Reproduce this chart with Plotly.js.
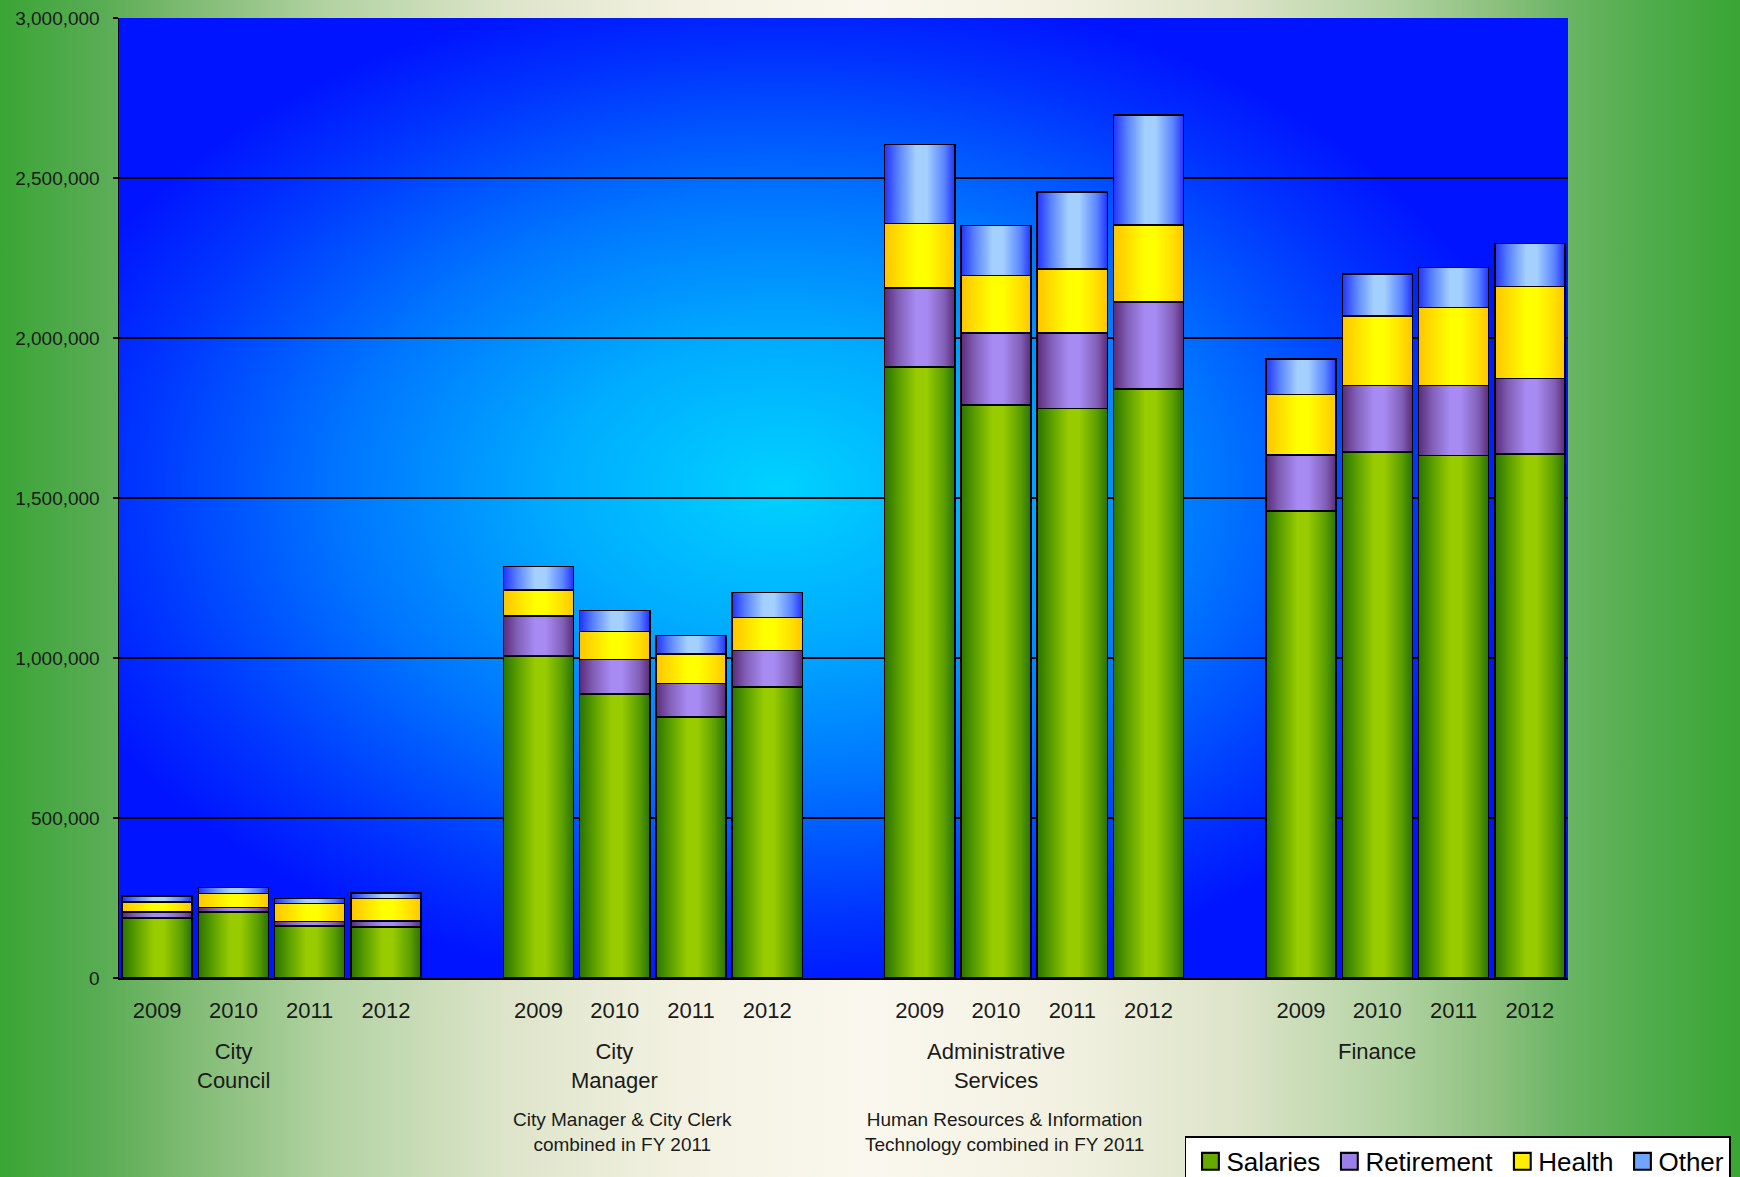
<!DOCTYPE html>
<html>
<head>
<meta charset="utf-8">
<script src="https://cdn.plot.ly/plotly-3.0.1.min.js"></script>
<style>
  html, body { margin: 0; padding: 0; }
  #chart {
    width: 1740px;
    height: 1177px;
    background: linear-gradient(to right,
      #3aa535 0%, #5aad55 6%, #7ab86e 10%, #b3d3a3 19%, #dde4c9 29%,
      #f2f1e1 39%, #faf8ee 50%, #f2f1e1 61%, #dde4c9 71%, #b3d3a3 80%,
      #8cc07e 86%, #6ab564 90%, #4fac4a 95%, #3aa535 100%);
  }
</style>
</head>
<body>
<div id="chart"></div>
<script>
// Personnel costs by department and fiscal year
const departments = ['City Council', 'City Manager', 'Administrative Services', 'Finance'];
const departmentLabels = ['City<br>Council', 'City<br>Manager', 'Administrative<br>Services', 'Finance'];
const departmentNotes = [
  '',
  'City Manager & City Clerk<br>combined in FY 2011',
  'Human Resources & Information<br>Technology combined in FY 2011',
  ''
];
const years = ['2009', '2010', '2011', '2012'];

// Values listed department by department, 2009-2012 within each
const salaries   = [188000, 207000, 162000, 160000, 1006000, 887000, 816000, 909000, 1910000, 1791000, 1779000, 1840000, 1459000, 1644000, 1633000, 1638000];
const retirement = [18000, 14000, 15000, 18000, 126000, 109000, 104000, 114000, 247000, 224000, 236000, 273000, 175000, 208000, 219000, 235000];
const health     = [32000, 43000, 56000, 70000, 81000, 87000, 93000, 103000, 201000, 180000, 200000, 240000, 190000, 216000, 244000, 288000];
const other      = [18000, 19000, 16000, 18000, 73000, 66000, 58000, 78000, 246000, 157000, 242000, 344000, 110000, 132000, 125000, 135000];

const seriesNames = ['Salaries', 'Retirement', 'Health', 'Other'];
const seriesValues = [salaries, retirement, health, other];
const swatchColors = ['#66aa00', '#9b7fe6', '#ffee00', '#6fa5ff'];
// cylinder shading: edge -> centre -> edge
const shadeStops = [
  ['#2a7300', '#5a9e00', '#98cb00', '#98cb00', '#5a9e00', '#2a7300'],
  ['#5a2a78', '#8260b8', '#a78bf3', '#a78bf3', '#8260b8', '#5a2a78'],
  ['#ffc400', '#ffdf00', '#ffff00', '#ffff00', '#ffdf00', '#ffc400'],
  ['#2232ff', '#5a84ff', '#a4d0ff', '#a4d0ff', '#5a84ff', '#2232ff']
];
const shadeOffsets = [0, 0.2, 0.45, 0.6, 0.85, 1];

const FONT = 'Liberation Sans, Arial, sans-serif';
const TEXT = '#1a1a1a';

// one empty slot between department groups
const slotsPerGroup = years.length + 1;
const xPos = [];
const tickText = [];
departments.forEach((d, g) => {
  years.forEach((y, j) => {
    xPos.push(g * slotsPerGroup + j);
    tickText.push(y);
  });
});
const lastSlot = (departments.length - 1) * slotsPerGroup + years.length - 1;

const traces = seriesNames.map((name, i) => ({
  type: 'bar',
  name: name,
  x: xPos,
  y: seriesValues[i],
  width: 0.92,
  marker: { color: swatchColors[i], line: { color: '#000', width: 1.5 } },
  hoverinfo: 'skip'
}));

// radial blue glow behind the bars
const bgSvg =
  '<svg xmlns="http://www.w3.org/2000/svg" width="1449" height="960" viewBox="0 0 1449 960" preserveAspectRatio="none">' +
  '<defs><radialGradient id="glow" cx="0.455" cy="0.49" r="0.53">' +
  '<stop offset="0" stop-color="#00d2ff"/>' +
  '<stop offset="0.29" stop-color="#00acff"/>' +
  '<stop offset="0.57" stop-color="#0076ff"/>' +
  '<stop offset="0.84" stop-color="#0035ff"/>' +
  '<stop offset="1" stop-color="#0014ff"/>' +
  '</radialGradient></defs>' +
  '<rect x="0" y="0" width="1449" height="960" fill="url(#glow)"/></svg>';

const annotations = [];
departments.forEach((d, g) => {
  const xc = g * slotsPerGroup + 1;
  annotations.push({
    x: xc, y: 0, xref: 'x', yref: 'paper', yanchor: 'top', yshift: -59,
    text: departmentLabels[g], showarrow: false,
    font: { family: FONT, size: 22, color: TEXT }
  });
  if (departmentNotes[g]) {
    annotations.push({
      x: xc, y: 0, xref: 'x', yref: 'paper', yanchor: 'middle', yshift: -154, xshift: 8,
      text: departmentNotes[g], showarrow: false,
      font: { family: FONT, size: 19, color: TEXT }
    });
  }
});

const layout = {
  width: 1740,
  height: 1177,
  margin: { l: 119, r: 172, t: 18, b: 199, pad: 0 },
  paper_bgcolor: 'rgba(0,0,0,0)',
  plot_bgcolor: '#0018ff',
  barmode: 'stack',
  font: { family: FONT, color: TEXT },
  showlegend: true,
  xaxis: {
    range: [-0.5, lastSlot + 0.5],
    tickmode: 'array',
    tickvals: xPos,
    ticktext: tickText,
    tickfont: { family: FONT, size: 22, color: TEXT },
    ticks: '',
    ticklabelstandoff: 12,
    showgrid: false,
    zeroline: false,
    showline: true,
    linecolor: '#000',
    linewidth: 1.5,
    fixedrange: true
  },
  yaxis: {
    range: [0, 3000000],
    tick0: 0,
    dtick: 500000,
    tickformat: ',d',
    tickfont: { family: FONT, size: 19, color: TEXT },
    ticks: 'outside',
    ticklen: 5,
    tickwidth: 1.5,
    tickcolor: '#000',
    ticklabelstandoff: 9,
    showgrid: true,
    gridcolor: '#000',
    gridwidth: 1.5,
    zeroline: false,
    showline: true,
    linecolor: '#000',
    linewidth: 1.5,
    fixedrange: true
  },
  legend: {
    orientation: 'h',
    traceorder: 'normal',
    xref: 'container', yref: 'container',
    x: 0.681, xanchor: 'left',
    y: 0.0345, yanchor: 'top',
    bgcolor: '#ffffff',
    bordercolor: '#000',
    borderwidth: 1.5,
    font: { family: FONT, size: 26, color: '#000' },
    itemwidth: 30
  },
  annotations: annotations,
  images: [{
    source: 'data:image/svg+xml;charset=utf-8,' + encodeURIComponent(bgSvg),
    xref: 'paper', yref: 'paper',
    x: 0, y: 1, sizex: 1, sizey: 1,
    xanchor: 'left', yanchor: 'top',
    sizing: 'stretch', layer: 'below'
  }]
};

Plotly.newPlot('chart', traces, layout, { displayModeBar: false, staticPlot: true }).then(gd => {
  const svgNS = 'http://www.w3.org/2000/svg';
  const svg = gd.querySelector('.main-svg');
  let defs = svg.querySelector('defs');
  if (!defs) { defs = document.createElementNS(svgNS, 'defs'); svg.insertBefore(defs, svg.firstChild); }
  shadeStops.forEach((stops, i) => {
    const lg = document.createElementNS(svgNS, 'linearGradient');
    lg.setAttribute('id', 'cyl-' + i);
    lg.setAttribute('x1', '0'); lg.setAttribute('y1', '0');
    lg.setAttribute('x2', '1'); lg.setAttribute('y2', '0');
    stops.forEach((c, k) => {
      const st = document.createElementNS(svgNS, 'stop');
      st.setAttribute('offset', shadeOffsets[k]);
      st.setAttribute('stop-color', c);
      lg.appendChild(st);
    });
    defs.appendChild(lg);
  });
  gd.querySelectorAll('.barlayer .trace').forEach((tr, i) => {
    tr.querySelectorAll('.point path').forEach(p => { p.style.fill = 'url(#cyl-' + i + ')'; });
  });
  gd.querySelectorAll('.legend .legendpoints path').forEach(p => {
    const t = p.getAttribute('transform') || '';
    p.setAttribute('transform', (t + ' translate(4,0) scale(1.4)').trim());
  });
});
</script>
</body>
</html>
